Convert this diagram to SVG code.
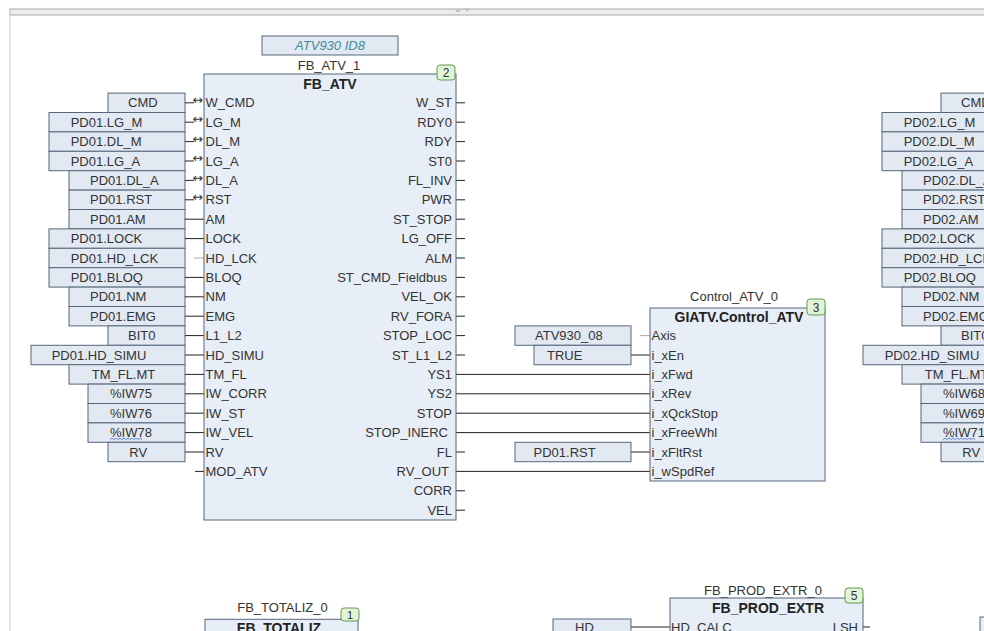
<svg xmlns="http://www.w3.org/2000/svg" width="984" height="631" viewBox="0 0 984 631">
<style>
text{font-family:"Liberation Sans",Arial,sans-serif;font-size:13px;fill:#333}
.box{fill:#e2e9f3;stroke:#56667a;stroke-width:1}
.blk{fill:#e8eef7;stroke:#56667a;stroke-width:1}
.bold{font-weight:bold;font-size:14px;fill:#222}
.mid{text-anchor:middle}
.end{text-anchor:end}
.w{stroke:#222;stroke-width:1;fill:none}
.g{stroke:#aaa;stroke-width:1;fill:none}
.badge{fill:#e2f4d8;stroke:#5e9c4c;stroke-width:1}
.arr{font-family:"DejaVu Sans",sans-serif;font-size:12.5px;fill:#333}
.inst{font-style:italic;fill:#3f8c9c}
.wavy{stroke:#4a6fd0;stroke-width:0.8;fill:none}
</style>
<rect x="0" y="0" width="984" height="631" fill="#fff"/>
<g id="chrome">
<rect x="10" y="9" width="980" height="6" fill="#ededed" stroke="#a8a8a8" stroke-width="1"/>
<line x1="10" y1="9" x2="10" y2="631" stroke="#d0d0d0"/>
<polygon points="455,12 458,8.5 461,12" fill="#c4c4c4"/>
<polygon points="464,8.5 470,8.5 467,12" fill="#c4c4c4"/>
</g>

<g id="inputs-left">
<g transform="translate(0,102.8)"><rect class="box" x="108" y="-9.7" width="77" height="19.4"/><text x="128" y="4.5">CMD</text></g>
<g transform="translate(0,122.2)"><rect class="box" x="49" y="-9.7" width="136" height="19.4"/><text x="70.7" y="4.5">PD01.LG_M</text></g>
<g transform="translate(0,141.6)"><rect class="box" x="49" y="-9.7" width="136" height="19.4"/><text x="70.7" y="4.5">PD01.DL_M</text></g>
<g transform="translate(0,161)"><rect class="box" x="49" y="-9.7" width="136" height="19.4"/><text x="70.7" y="4.5">PD01.LG_A</text></g>
<g transform="translate(0,180.4)"><rect class="box" x="69" y="-9.7" width="116" height="19.4"/><text x="90" y="4.5">PD01.DL_A</text></g>
<g transform="translate(0,199.8)"><rect class="box" x="69" y="-9.7" width="116" height="19.4"/><text x="90" y="4.5">PD01.RST</text></g>
<g transform="translate(0,219.2)"><rect class="box" x="69" y="-9.7" width="116" height="19.4"/><text x="90" y="4.5">PD01.AM</text></g>
<g transform="translate(0,238.6)"><rect class="box" x="49" y="-9.7" width="136" height="19.4"/><text x="70.7" y="4.5">PD01.LOCK</text></g>
<g transform="translate(0,258)"><rect class="box" x="49" y="-9.7" width="136" height="19.4"/><text x="70.7" y="4.5">PD01.HD_LCK</text></g>
<g transform="translate(0,277.4)"><rect class="box" x="49" y="-9.7" width="136" height="19.4"/><text x="70.7" y="4.5">PD01.BLOQ</text></g>
<g transform="translate(0,296.8)"><rect class="box" x="69" y="-9.7" width="116" height="19.4"/><text x="90" y="4.5">PD01.NM</text></g>
<g transform="translate(0,316.2)"><rect class="box" x="69" y="-9.7" width="116" height="19.4"/><text x="90" y="4.5">PD01.EMG</text></g>
<g transform="translate(0,335.6)"><rect class="box" x="108" y="-9.7" width="77" height="19.4"/><text x="128" y="4.5">BIT0</text></g>
<g transform="translate(0,355)"><rect class="box" x="31" y="-9.7" width="154" height="19.4"/><text x="51.7" y="4.5">PD01.HD_SIMU</text></g>
<g transform="translate(0,374.4)"><rect class="box" x="69" y="-9.7" width="116" height="19.4"/><text x="91.7" y="4.5">TM_FL.MT</text></g>
<g transform="translate(0,393.8)"><rect class="box" x="88" y="-9.7" width="97" height="19.4"/><text x="110" y="4.5">%IW75</text></g>
<g transform="translate(0,413.2)"><rect class="box" x="88" y="-9.7" width="97" height="19.4"/><text x="110" y="4.5">%IW76</text></g>
<g transform="translate(0,432.6)"><rect class="box" x="88" y="-9.7" width="97" height="19.4"/><text x="110" y="4.5">%IW78</text><path class="wavy" d="M110,7 l2,-1.5 l2,1.5 l2,-1.5 l2,1.5 l2,-1.5 l2,1.5 l2,-1.5 l2,1.5 l2,-1.5 l2,1.5 l2,-1.5 l2,1.5 l2,-1.5 l2,1.5 l2,-1.5 l2,1.5"/></g>
<g transform="translate(0,452)"><rect class="box" x="108" y="-9.7" width="77" height="19.4"/><text x="129.3" y="4.5">RV</text></g>
</g>

<g id="inputs-right" transform="translate(833,0)">
<g transform="translate(0,102.8)"><rect class="box" x="108" y="-9.7" width="77" height="19.4"/><text x="128" y="4.5">CMD</text></g>
<g transform="translate(0,122.2)"><rect class="box" x="49" y="-9.7" width="136" height="19.4"/><text x="70.7" y="4.5">PD02.LG_M</text></g>
<g transform="translate(0,141.6)"><rect class="box" x="49" y="-9.7" width="136" height="19.4"/><text x="70.7" y="4.5">PD02.DL_M</text></g>
<g transform="translate(0,161)"><rect class="box" x="49" y="-9.7" width="136" height="19.4"/><text x="70.7" y="4.5">PD02.LG_A</text></g>
<g transform="translate(0,180.4)"><rect class="box" x="69" y="-9.7" width="116" height="19.4"/><text x="90" y="4.5">PD02.DL_A</text></g>
<g transform="translate(0,199.8)"><rect class="box" x="69" y="-9.7" width="116" height="19.4"/><text x="90" y="4.5">PD02.RST</text></g>
<g transform="translate(0,219.2)"><rect class="box" x="69" y="-9.7" width="116" height="19.4"/><text x="90" y="4.5">PD02.AM</text></g>
<g transform="translate(0,238.6)"><rect class="box" x="49" y="-9.7" width="136" height="19.4"/><text x="70.7" y="4.5">PD02.LOCK</text></g>
<g transform="translate(0,258)"><rect class="box" x="49" y="-9.7" width="136" height="19.4"/><text x="70.7" y="4.5">PD02.HD_LCK</text></g>
<g transform="translate(0,277.4)"><rect class="box" x="49" y="-9.7" width="136" height="19.4"/><text x="70.7" y="4.5">PD02.BLOQ</text></g>
<g transform="translate(0,296.8)"><rect class="box" x="69" y="-9.7" width="116" height="19.4"/><text x="90" y="4.5">PD02.NM</text></g>
<g transform="translate(0,316.2)"><rect class="box" x="69" y="-9.7" width="116" height="19.4"/><text x="90" y="4.5">PD02.EMG</text></g>
<g transform="translate(0,335.6)"><rect class="box" x="108" y="-9.7" width="77" height="19.4"/><text x="128" y="4.5">BIT0</text></g>
<g transform="translate(0,355)"><rect class="box" x="30" y="-9.7" width="155" height="19.4"/><text x="51.7" y="4.5">PD02.HD_SIMU</text></g>
<g transform="translate(0,374.4)"><rect class="box" x="69" y="-9.7" width="116" height="19.4"/><text x="91.7" y="4.5">TM_FL.MT</text></g>
<g transform="translate(0,393.8)"><rect class="box" x="88" y="-9.7" width="97" height="19.4"/><text x="110" y="4.5">%IW68</text></g>
<g transform="translate(0,413.2)"><rect class="box" x="88" y="-9.7" width="97" height="19.4"/><text x="110" y="4.5">%IW69</text></g>
<g transform="translate(0,432.6)"><rect class="box" x="88" y="-9.7" width="97" height="19.4"/><text x="110" y="4.5">%IW71</text><path class="wavy" d="M110,7 l2,-1.5 l2,1.5 l2,-1.5 l2,1.5 l2,-1.5 l2,1.5 l2,-1.5 l2,1.5 l2,-1.5 l2,1.5 l2,-1.5 l2,1.5 l2,-1.5 l2,1.5 l2,-1.5 l2,1.5"/></g>
<g transform="translate(0,452)"><rect class="box" x="108" y="-9.7" width="77" height="19.4"/><text x="129.3" y="4.5">RV</text></g>
</g>

<g id="connectors">
<path class="w" d="M185,102.8H194M185,122.2H194M185,141.6H194M185,161H194M185,180.4H194M185,199.8H194"/>
<path class="w" d="M185,219.2H204M185,238.6H204M185,277.4H204M185,296.8H204M185,316.2H204M185,335.6H204M185,355H204M185,374.4H204M185,393.8H204M185,413.2H204M185,432.6H204M185,452H204M195,471.4H204"/>
<path class="g" d="M194,258H204M640,335.6H650"/>
<path class="w" d="M456,102.8H465M456,122.2H465M456,141.6H465M456,161H465M456,180.4H465M456,199.8H465M456,219.2H465M456,238.6H465M456,258H465M456,277.4H465M456,296.8H465M456,316.2H465M456,335.6H465M456,355H465M456,452H465M456,490.8H465M456,510.2H465"/>
<path class="w" d="M456,374.4H650M456,393.8H650M456,413.2H650M456,432.6H650M456,471.4H650"/>
<path class="w" d="M631,355H650M631,452H650"/>
<path class="w" d="M631,627H670M863,627H870"/>
<text class="arr" x="192.5" y="104">↔</text>
<text class="arr" x="192.5" y="123.4">↔</text>
<text class="arr" x="192.5" y="142.8">↔</text>
<text class="arr" x="192.5" y="162.2">↔</text>
<text class="arr" x="192.5" y="181.6">↔</text>
<text class="arr" x="192.5" y="201">↔</text>
</g>

<g id="fb_atv">
<rect class="box" x="262" y="36" width="136" height="19"/>
<text class="inst mid" x="330" y="50">ATV930 ID8</text>
<text class="mid" x="329" y="70">FB_ATV_1</text>
<rect class="blk" x="204" y="74" width="252" height="446"/>
<text class="bold mid" x="330" y="89">FB_ATV</text>
<rect class="badge" x="437" y="65" width="18" height="15" rx="3"/>
<text class="mid" x="446" y="77" style="font-size:12px">2</text>
<g transform="translate(205.5,4.5)">
<text y="102.8">W_CMD</text><text y="122.2">LG_M</text><text y="141.6">DL_M</text><text y="161">LG_A</text><text y="180.4">DL_A</text><text y="199.8">RST</text><text y="219.2">AM</text><text y="238.6">LOCK</text><text y="258">HD_LCK</text><text y="277.4">BLOQ</text><text y="296.8">NM</text><text y="316.2">EMG</text><text y="335.6">L1_L2</text><text y="355">HD_SIMU</text><text y="374.4">TM_FL</text><text y="393.8">IW_CORR</text><text y="413.2">IW_ST</text><text y="432.6">IW_VEL</text><text y="452">RV</text><text y="471.4">MOD_ATV</text>
</g>
<g class="end" transform="translate(452,4.5)">
<text class="end" y="102.8">W_ST</text><text class="end" y="122.2">RDY0</text><text class="end" y="141.6">RDY</text><text class="end" y="161">ST0</text><text class="end" y="180.4">FL_INV</text><text class="end" y="199.8">PWR</text><text class="end" y="219.2">ST_STOP</text><text class="end" y="238.6">LG_OFF</text><text class="end" y="258">ALM</text><text class="end" x="-5" y="277.4">ST_CMD_Fieldbus</text><text class="end" y="296.8">VEL_OK</text><text class="end" y="316.2">RV_FORA</text><text class="end" y="335.6">STOP_LOC</text><text class="end" y="355">ST_L1_L2</text><text class="end" y="374.4">YS1</text><text class="end" y="393.8">YS2</text><text class="end" y="413.2">STOP</text><text class="end" x="-4" y="432.6">STOP_INERC</text><text class="end" y="452">FL</text><text class="end" x="-3" y="471.4">RV_OUT</text><text class="end" y="490.8">CORR</text><text class="end" y="510.2">VEL</text>
</g>
</g>

<g id="control_atv">
<text class="mid" x="734" y="301">Control_ATV_0</text>
<rect class="blk" x="650" y="308" width="175" height="173"/>
<text class="bold mid" x="739" y="321.5">GIATV.Control_ATV</text>
<rect class="badge" x="807" y="299" width="18" height="16" rx="3"/>
<text class="mid" x="816" y="311.5" style="font-size:12px">3</text>
<g transform="translate(651.5,4.5)">
<text y="335.6">Axis</text><text y="355">i_xEn</text><text y="374.4">i_xFwd</text><text y="393.8">i_xRev</text><text y="413.2">i_xQckStop</text><text y="432.6">i_xFreeWhl</text><text y="452">i_xFltRst</text><text y="471.4">i_wSpdRef</text>
</g>
</g>
<g id="in-atv930"><rect class="box" x="515" y="325.9" width="116" height="19.4"/><text x="535" y="340.1">ATV930_08</text></g>
<g id="in-true"><rect class="box" x="534" y="345.3" width="97" height="19.4"/><text x="547" y="359.5">TRUE</text></g>
<g id="in-pd01rst"><rect class="box" x="515" y="442.3" width="116" height="19.4"/><text x="533.5" y="456.5">PD01.RST</text></g>

<g id="fb_totaliz">
<text class="mid" x="282.5" y="612">FB_TOTALIZ_0</text>
<rect class="blk" x="205" y="619.3" width="153" height="30"/>
<text class="bold mid" x="279" y="633">FB_TOTALIZ</text>
<rect class="badge" x="341" y="608" width="18" height="13" rx="3"/>
<text class="mid" x="350" y="619" style="font-size:11px">1</text>
</g>

<g id="fb_prod_extr">
<text class="mid" x="763" y="595">FB_PROD_EXTR_0</text>
<rect class="blk" x="670" y="598" width="193" height="45"/>
<text class="bold mid" x="768" y="612.5">FB_PROD_EXTR</text>
<rect class="badge" x="845" y="588" width="18" height="15" rx="3"/>
<text class="mid" x="854" y="600" style="font-size:12px">5</text>
<text x="671" y="631.5">HD_CALC</text>
<text class="end" x="858" y="631.5">LSH</text>
</g>
<g id="in-hd"><rect class="box" x="553" y="619" width="78" height="19.4"/><text x="575" y="632">HD</text></g>
<g id="corner-node"><rect class="blk" x="980" y="617" width="30" height="30"/></g>
</svg>
